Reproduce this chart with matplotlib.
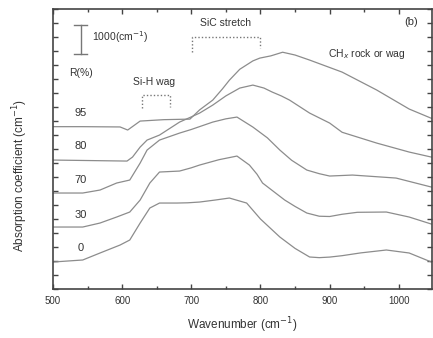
import matplotlib
matplotlib.use('Agg')
import matplotlib.pyplot as plt
from matplotlib.ticker import MultipleLocator, NullFormatter

plt.rcParams['font.family'] = ['Liberation Sans', 'DejaVu Sans']

# spectra (wavenumber, absorption coefficient in cm^-1)
wn_95 = [500, 543, 597, 608, 626, 660, 698, 712, 731, 745, 755, 770, 789, 799, 815, 832,
         850, 871, 918, 968, 1015, 1047]
ab_95 = [5800, 5800, 5790, 5680, 6000, 6050, 6070, 6400, 6750, 7150, 7460, 7850, 8150, 8250,
         8330, 8460, 8360, 8180, 7750, 7110, 6430, 6100]

wn_80 = [500, 607, 615, 626, 636, 654, 683, 700, 712, 731, 750, 770, 789, 805, 817, 830,
         842, 871, 900, 918, 968, 1015, 1047]
ab_80 = [4607, 4571, 4714, 5071, 5321, 5500, 5964, 6150, 6286, 6571, 6900, 7179, 7286, 7180,
         7036, 6900, 6750, 6286, 5929, 5600, 5214, 4893, 4714]

wn_70 = [500, 543, 568, 592, 611, 626, 636, 654, 683, 700, 731, 750, 766, 789, 810, 828,
         845, 867, 885, 900, 933, 996, 1047]
ab_70 = [3429, 3429, 3536, 3786, 3893, 4500, 4964, 5321, 5571, 5700, 5964, 6080, 6143, 5786,
         5400, 4964, 4600, 4250, 4120, 4036, 4071, 3964, 3643]

wn_30 = [500, 543, 568, 592, 611, 626, 640, 654, 683, 700, 712, 740, 766, 784, 795, 803,
         835, 850, 867, 885, 900, 918, 940, 982, 1015, 1047]
ab_30 = [2214, 2214, 2357, 2571, 2750, 3179, 3786, 4179, 4214, 4330, 4429, 4620, 4750, 4429,
         4100, 3786, 3179, 2950, 2714, 2600, 2590, 2670, 2740, 2750, 2571, 2321]

wn_0 = [500, 543, 568, 597, 611, 626, 640, 654, 679, 695, 712, 735, 755, 780, 800, 828,
        850, 871, 885, 900, 918, 945, 982, 1015, 1047]
ab_0 = [964, 1036, 1286, 1571, 1750, 2357, 2893, 3071, 3071, 3080, 3107, 3180, 3250, 3071,
        2500, 1857, 1450, 1143, 1120, 1140, 1190, 1290, 1393, 1286, 964]

series = [(wn_95, ab_95), (wn_80, ab_80), (wn_70, ab_70), (wn_30, ab_30), (wn_0, ab_0)]
r_labels = ['95', '80', '70', '30', '0']
r_label_y = [6300, 5100, 3900, 2650, 1450]

line_col = '#8c8c8c'
text_col = '#333333'

fig = plt.figure(figsize=(4.33, 3.38), dpi=100)
ax = fig.add_axes([0.1224, 0.145, 0.8753, 0.828])

for wn, ab in series:
    ax.plot(wn, ab, color=line_col, linewidth=0.9)

for lab, yy in zip(r_labels, r_label_y):
    ax.text(540, yy, lab, fontsize=8, color=text_col, ha='center', va='center')
ax.text(540, 7700, 'R(%)', fontsize=7.5, color=text_col, ha='center', va='center')

# scale bar
ax.plot([540, 540], [8400, 9450], color='#777777', linewidth=1)
ax.plot([531, 549], [9450, 9450], color='#777777', linewidth=1)
ax.plot([531, 549], [8400, 8400], color='#777777', linewidth=1)
ax.text(556, 9000, '1000(cm$^{-1}$)', fontsize=7.5, color=text_col, ha='left', va='center')

# band annotations
ax.text(646, 7400, 'Si-H wag', fontsize=7.5, color=text_col, ha='center', va='center')
ax.plot([628, 628, 669, 669], [6460, 6930, 6930, 6500], color='#777777',
        linewidth=1, linestyle=(0, (1, 1.5)))
ax.text(750, 9500, 'SiC stretch', fontsize=7.5, color=text_col, ha='center', va='center')
ax.plot([701, 701, 800, 800], [8460, 9000, 9000, 8600], color='#777777',
        linewidth=1, linestyle=(0, (1, 1.5)))
ax.text(954, 8400, 'CH$_x$ rock or wag', fontsize=7.5, color=text_col, ha='center', va='center')
ax.text(1018, 9550, '(b)', fontsize=8, color=text_col, ha='center', va='center')

ax.set_xlim(500, 1048)
ax.set_ylim(0, 10000)
ax.xaxis.set_major_locator(MultipleLocator(100))
ax.xaxis.set_minor_locator(MultipleLocator(50))
ax.yaxis.set_major_locator(MultipleLocator(500))
ax.yaxis.set_major_formatter(NullFormatter())
ax.tick_params(axis='both', which='both', direction='in', top=True, right=True,
               color='#444444', labelsize=7, labelcolor=text_col)
ax.tick_params(axis='both', which='major', length=3.5, width=1)
ax.tick_params(axis='x', which='minor', length=2.5, width=1)
ax.tick_params(axis='x', pad=5)
for s in ax.spines.values():
    s.set_color('#444444')
    s.set_linewidth(1.2)

ax.set_xlabel('Wavenumber (cm$^{-1}$)', fontsize=8.5, color=text_col, labelpad=7)
fig.text(0.047, 0.48, 'Absorption coefficient (cm$^{-1}$)', fontsize=8.5, color=text_col,
         rotation=90, ha='center', va='center')

fig.savefig('out.png', dpi=100)
